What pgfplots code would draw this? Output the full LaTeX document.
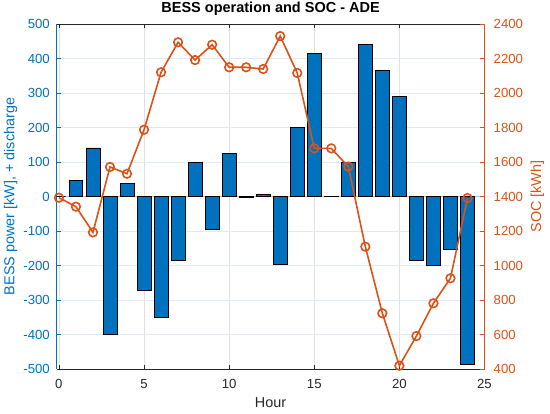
\documentclass[border=0pt]{standalone}
\usepackage{pgfplots}
\pgfplotsset{compat=1.18}
\usepackage{fontspec}
\setmainfont{Liberation Sans}
\definecolor{mblue}{rgb}{0,0.447,0.741}
\definecolor{morange}{rgb}{0.85,0.325,0.098}
\definecolor{axgray}{rgb}{0.15,0.15,0.15}
\definecolor{ygrid}{rgb}{0.87,0.92,0.96}
\definecolor{xgrid}{rgb}{0.88,0.88,0.88}
\definecolor{baseln}{rgb}{0.62,0.78,0.9}
\begin{document}
\begin{tikzpicture}
\begin{axis}[
  at={(0,0)}, anchor=south west,
  scale only axis, width=427.8pt, height=345pt,
  xmin=-0.13, xmax=25, ymin=-500, ymax=500,
  xtick={0,5,10,15,20,25}, xticklabels={0,5,10,15,20,25},
  ytick={-500,-400,-300,-200,-100,0,100,200,300,400,500},
  yticklabels={-500,-400,-300,-200,-100,0,100,200,300,400,500},
  axis x line*=box, axis y line*=left,
  tick align=inside, major tick length=4.3pt,
  x axis line style={axgray, line width=0.7pt},
  y axis line style={mblue, line width=0.7pt},
  xtick style={axgray, line width=0.7pt},
  ytick style={mblue, line width=0.7pt},
  xmajorgrids, ymajorgrids,
  major x grid style={xgrid, line width=0.7pt},
  major y grid style={ygrid, line width=0.7pt},
  xticklabel style={text=axgray, anchor=base, inner sep=0pt, yshift=-20pt, font=\fontsize{13.2}{15}\selectfont},
  yticklabel style={text=mblue, anchor=east, inner sep=0pt, xshift=-6.7pt, font=\fontsize{13.2}{15}\selectfont},
  xlabel={Hour},
  xlabel style={at={(axis description cs:0.5,-0.113)}, anchor=base, inner sep=0pt, text=axgray, font=\fontsize{14.4}{17}\selectfont},
  ylabel={BESS power [kW], + discharge},
  ylabel style={at={(axis description cs:-0.1075,0.5)}, anchor=center, inner sep=0pt, text=mblue, font=\fontsize{14.4}{17}\selectfont},
  title={BESS operation and SOC - ADE},
  title style={at={(axis description cs:0.5,1.0145)}, anchor=base, inner sep=0pt, text=black, font=\bfseries\fontsize{14.5}{17}\selectfont},
]
\addplot[baseln, line width=0.8pt, forget plot] coordinates {(-0.13,0) (25,0)};
\addplot[ybar, bar width=0.8, bar shift=0pt, fill=mblue, draw=black, line width=0.5pt] coordinates {
(0,0) (1,47) (2,141) (3,-399) (4,39) (5,-271) (6,-350) (7,-184) (8,98) (9,-95)
(10,124) (11,-2) (12,6) (13,-197) (14,201) (15,414) (16,1) (17,100) (18,440)
(19,366) (20,290) (21,-184) (22,-200) (23,-154) (24,-487)
};
\end{axis}
\begin{axis}[
  at={(0,0)}, anchor=south west,
  scale only axis, width=427.8pt, height=345pt,
  xmin=-0.13, xmax=25, ymin=400, ymax=2400,
  ytick={400,600,800,1000,1200,1400,1600,1800,2000,2200,2400},
  yticklabels={400,600,800,1000,1200,1400,1600,1800,2000,2200,2400},
  axis y line*=right, axis x line=none,
  tick align=inside, major tick length=4.3pt,
  y axis line style={morange, line width=0.7pt},
  ytick style={morange, line width=0.7pt},
  yticklabel style={text=morange, anchor=west, inner sep=0pt, xshift=9pt, font=\fontsize{13.2}{15}\selectfont},
  ylabel={SOC [kWh]},
  ylabel style={at={(axis description cs:1.1239,0.5)}, anchor=center, inner sep=0pt, text=morange, font=\fontsize{14.4}{17}\selectfont},
]
\addplot[morange, line width=1.6pt, mark=o, mark size=4.3pt, mark options={line width=1.6pt}] coordinates {
(0,1393) (1,1341) (2,1192) (3,1571) (4,1532) (5,1787) (6,2120) (7,2294) (8,2191)
(9,2280) (10,2149) (11,2149) (12,2139) (13,2330) (14,2116) (15,1679) (16,1679)
(17,1573) (18,1109) (19,723) (20,419) (21,591) (22,781) (23,926) (24,1391)
};
\end{axis}
\pgfresetboundingbox
\path (-56.7pt,-45pt) rectangle (493.3pt,369pt);
\end{tikzpicture}
\end{document}
